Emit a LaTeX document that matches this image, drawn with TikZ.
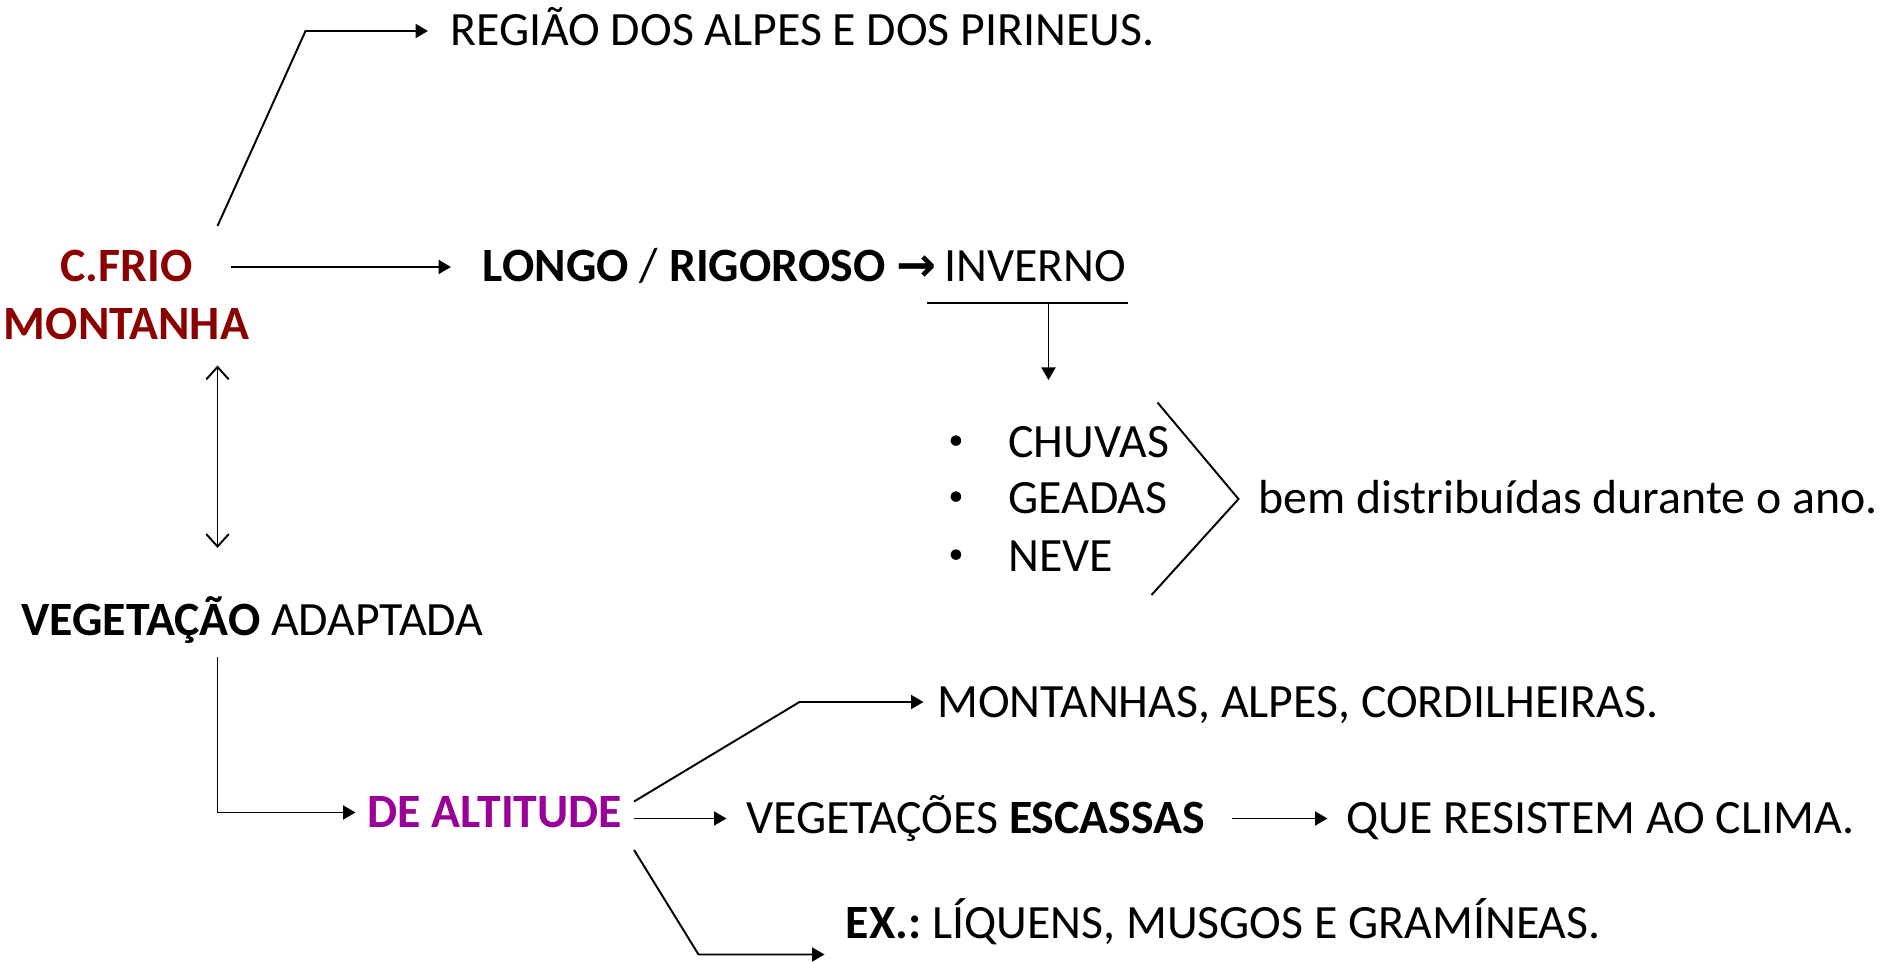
\documentclass[tikz,border=0pt]{standalone}
\usepackage{fontspec}
\setmainfont{Carlito}
\newfontfamily\arrowfont{DejaVu Sans}
\usetikzlibrary{arrows.meta}
\definecolor{frio}{HTML}{8B0000}
\definecolor{altit}{HTML}{990099}
\frenchspacing

\begin{document}
\begin{tikzpicture}[
    txt/.style={anchor=west, inner sep=0pt, text height=0.6cm, text depth=0pt},
    arr/.style={-{Triangle[length=0.25cm,width=0.28cm]}},
    dbl/.style={{Straight Barb[length=0.25cm,width=0.45cm]}-{Straight Barb[length=0.25cm,width=0.45cm]}},
    line width=1.1pt,
    font=\fontsize{27.2}{32}\selectfont
  ]
  \useasboundingbox (0,0) rectangle (37.70,19.22);

  % Climate
  \node[txt, anchor=center, text=frio] (cfrio) at (2.53,13.88) {\bfseries C.FRIO};
  \node[txt, anchor=center, text=frio] (montanha) at (2.53,12.73) {\bfseries MONTANHA};

  % Texts
  \node[txt] (regiao) at (8.99,18.60) {REGIÃO DOS ALPES E DOS PIRINEUS.};
  \node[txt] (longo) at (9.64,13.88) {\textbf{LONGO} / \textbf{RIGOROSO} {\arrowfont\bfseries →}\,INVERNO};
  \node[txt] (ano) at (25.15,9.24) {bem distribuídas durante o ano.};
  \node[txt] (vegetacao) at (0.41,6.81) {\textbf{VEGETAÇÃO} ADAPTADA};
  \node[txt, text=altit] (altitude) at (7.33,2.97) {\bfseries DE ALTITUDE};
  \node[txt] (montanhas) at (18.73,5.18) {MONTANHAS, ALPES, CORDILHEIRAS.};
  \node[txt] (escassas) at (14.91,2.85) {VEGETAÇÕES \textbf{ESCASSAS}};
  \node[txt] (clima) at (26.91,2.85) {QUE RESISTEM AO CLIMA.};
  \node[txt] (exemplo) at (16.90,0.75) {\textbf{EX.:} LÍQUENS, MUSGOS E GRAMÍNEAS.};

  % Bullets
  \foreach \nm/\y in {CHUVAS/10.37, GEADAS/9.24, NEVE/8.09}{
    \node[font=\fontsize{17}{20}\selectfont] (dot\nm) at (19.12,\y) {•};
    \node[txt] (\nm) at (20.15,\y) {\nm};
  }

  % Arrows from C.FRIO
  \coordinate (k1) at (4.35,14.70);
  \draw[arr] (k1) -- (6.11,18.60) -- ([xshift=-0.43cm]regiao.west);
  \draw[arr] ([xshift=0.75cm]cfrio.east) -- ([xshift=-0.62cm]longo.west);

  % Under INVERNO
  \coordinate (inv) at (20.97,13.16);
  \coordinate (chuv) at (20.97,11.62);
  \draw (18.54,13.16) -- (22.55,13.16);
  \draw[arr] (inv) -- (chuv);

  % Bracket
  \draw (23.15,11.17) -- ([xshift=-0.38cm]ano.west) -- (23.03,7.32);

  % Double arrow
  \coordinate (up) at (4.35,11.91);
  \coordinate (dn) at (4.35,8.26);
  \draw[dbl] (up) -- (dn);

  % Vegetation
  \coordinate (k2) at (4.35,6.07);
  \draw[arr] (k2) |- ([xshift=-0.22cm]altitude.west);
  \draw[arr] ([shift={(0.22,0.22)}]altitude.east) -- (15.99,5.18) -- ([xshift=-0.26cm]montanhas.west);
  \draw[arr] ([shift={(0.22,-0.12)}]altitude.east) -- ([xshift=-0.38cm]escassas.west);
  \draw[arr] ([xshift=0.53cm]escassas.east) -- ([xshift=-0.36cm]clima.west);
  \draw[arr] ([shift={(0.22,-0.75)}]altitude.east) -- (13.97,0.13) -- ([shift={(-0.41,-0.62)}]exemplo.west);
\end{tikzpicture}
\end{document}
